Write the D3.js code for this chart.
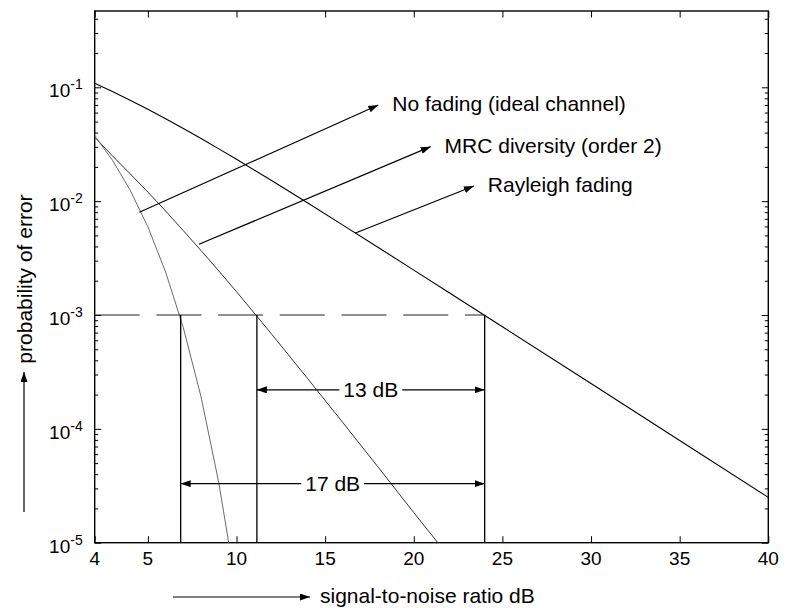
<!DOCTYPE html>
<html><head><meta charset="utf-8">
<script src="https://cdn.jsdelivr.net/npm/d3@7"></script>
<style>
body{margin:0;background:#fff}
svg{display:block}
text{font-family:"Liberation Sans",Arial,Helvetica,sans-serif;fill:#000}
</style>
</head><body><svg id="c" width="790" height="608"></svg>
<script>
// ---- data ----
const snrAwgn = [2,3,4,5,6,7,8,9,10];
const berAwgn = [0.0375,0.0229,0.0125,0.00595,0.00239,0.000773,0.000191,0.0000336,0.00000387];
const snrMrc = [2,3,4,5,6,7,8,9,10,11,12,14,16,18,20,22];
const berMrc = [0.0365,0.0250,0.0174,0.0120,0.0082,0.0055,0.00368,0.00244,0.0016,0.00104,0.000674,0.000278,0.0001135,0.0000459,0.0000184,0.0000075];
const snrRay = [2,3,4,5,6,7,8,9,10,12,14,16,18,20,22,25,30,35,40];
const berRay = [0.1085,0.0919,0.0771,0.0642,0.0530,0.0435,0.0355,0.0288,0.0233,0.0151,0.00967,0.00616,0.00392,0.00248,0.00157,0.000788,0.00025,0.000079,0.000025];
const xTickValues = [2,5,10,15,20,25,30,35,40];
const xTickLabels = ["4","5","10","15","20","25","30","35","40"];
const yTickExponents = [-5,-4,-3,-2,-1];
const refBer = 1e-3;
const crossSnr = [6.85, 11.15, 24.0];
const gapLabels = ["13 dB","17 dB"];
const gapBer = [2.2e-4, 3.3e-5];
const gapFrom = [11.15, 6.85];
const gapTo = [24.0, 24.0];
const curveLabels = ["No fading (ideal channel)","MRC diversity (order 2)","Rayleigh fading"];
const leaderFromSnr = [4.52, 7.88, 16.68];
const leaderFromBer = [0.00798, 0.00418, 0.00522];
const leaderToSnr = [18.0, 20.95, 23.39];
const leaderToBer = [0.0699, 0.0301, 0.01358];
const xTitle = "signal-to-noise ratio dB";
const yTitle = "probability of error";

// ---- layout ----
const L = 94.7, R = 768.3, T = 11, B = 542.7;
const svg = d3.select("#c");
const x = d3.scaleLinear().domain([2,40]).range([L,R]);
const y = d3.scaleLog().domain([1e-5,0.468]).range([B,T]);

const defs = svg.append("defs");
defs.append("clipPath").attr("id","clip").append("rect")
  .attr("x",L).attr("y",T).attr("width",R-L).attr("height",B-T);
defs.append("marker").attr("id","ah").attr("viewBox","0 0 10 7")
  .attr("refX",10).attr("refY",3.5).attr("markerWidth",10).attr("markerHeight",7)
  .attr("markerUnits","userSpaceOnUse").attr("orient","auto-start-reverse")
  .append("path").attr("d","M0,0L10,3.5L0,7Z").attr("fill","#000");

// minor ticks
const minor = [];
for (let e=-5; e<=-1; e++) for (let k=2; k<=9; k++) { const v=k*Math.pow(10,e); if (v<=0.468) minor.push(v); }

const axisG = svg.append("g");
axisG.append("g").attr("transform",`translate(${L},0)`)
  .call(d3.axisLeft(y).tickValues(minor).tickSize(-3.5).tickFormat(""));
axisG.append("g").attr("transform",`translate(${R},0)`)
  .call(d3.axisRight(y).tickValues(minor).tickSize(-3.5).tickFormat(""));
axisG.append("g").attr("transform",`translate(${L},0)`)
  .call(d3.axisLeft(y).tickValues(yTickExponents.map(e=>Math.pow(10,e))).tickSize(-6.5).tickFormat(""));
axisG.append("g").attr("transform",`translate(${R},0)`)
  .call(d3.axisRight(y).tickValues(yTickExponents.map(e=>Math.pow(10,e))).tickSize(-6.5).tickFormat(""));
axisG.append("g").attr("transform",`translate(0,${B})`)
  .call(d3.axisBottom(x).tickValues(xTickValues).tickSize(-6.5).tickFormat(""));
axisG.append("g").attr("transform",`translate(0,${T})`)
  .call(d3.axisTop(x).tickValues(xTickValues).tickSize(-6.5).tickFormat(""));
axisG.selectAll(".domain").remove();
axisG.selectAll(".tick line").attr("stroke","#000").attr("stroke-width",1);

// frame
svg.append("rect").attr("x",L).attr("y",T).attr("width",R-L).attr("height",B-T)
  .attr("fill","none").attr("stroke","#000").attr("stroke-width",1.4);

// x tick labels
svg.append("g").selectAll("text").data(xTickValues).join("text")
  .attr("x",d=>x(d)).attr("y",B+22).attr("text-anchor","middle")
  .style("font-size","19px").text((d,i)=>xTickLabels[i]);

// y tick labels 10^e
const yl = svg.append("g").selectAll("text").data(yTickExponents).join("text")
  .attr("x",L-12).attr("y",d=>y(Math.pow(10,d))+10).attr("text-anchor","end")
  .style("font-size","19px");
yl.append("tspan").text("10");
yl.append("tspan").attr("dy",-8).style("font-size","14px").text(d=>String(d));

// curves
const line = d3.line().x(d=>x(d[0])).y(d=>y(d[1]));
const curves = svg.append("g").attr("clip-path","url(#clip)");
curves.append("path").datum(snrRay.map((s,i)=>[s,berRay[i]])).attr("d",line)
  .attr("fill","none").attr("stroke","#000").attr("stroke-width",1.1);
curves.append("path").datum(snrMrc.map((s,i)=>[s,berMrc[i]])).attr("d",line)
  .attr("fill","none").attr("stroke","#333").attr("stroke-width",1);
curves.append("path").datum(snrAwgn.map((s,i)=>[s,berAwgn[i]])).attr("d",line)
  .attr("fill","none").attr("stroke","#6a6a6a").attr("stroke-width",1);

// reference dashed line at 1e-3
svg.append("line").attr("x1",x(2)).attr("x2",x(crossSnr[2])).attr("y1",y(refBer)).attr("y2",y(refBer))
  .attr("stroke","#222").attr("stroke-width",1.1).attr("stroke-dasharray","45,16.7");

// verticals
svg.append("g").selectAll("line").data(crossSnr).join("line")
  .attr("x1",d=>x(d)).attr("x2",d=>x(d)).attr("y1",y(refBer)).attr("y2",B)
  .attr("stroke","#000").attr("stroke-width",1.3);

// dimension arrows
gapLabels.forEach((lab,i)=>{
  const yy = y(gapBer[i]);
  svg.append("line").attr("x1",x(gapFrom[i])).attr("x2",x(gapTo[i])).attr("y1",yy).attr("y2",yy)
    .attr("stroke","#000").attr("stroke-width",1.2)
    .attr("marker-start","url(#ah)").attr("marker-end","url(#ah)");
  const cx = (x(gapFrom[i])+x(gapTo[i]))/2;
  const t = svg.append("text").attr("x",cx).attr("y",yy+7.5).attr("text-anchor","middle")
    .style("font-size","21px").text(lab);
  const bb = t.node().getBBox();
  svg.insert("rect", () => t.node()).attr("x",bb.x-4).attr("y",yy-3).attr("width",bb.width+8).attr("height",6).attr("fill","#fff");
});

// leader arrows + labels
curveLabels.forEach((lab,i)=>{
  svg.append("line").attr("x1",x(leaderFromSnr[i])).attr("y1",y(leaderFromBer[i]))
    .attr("x2",x(leaderToSnr[i])).attr("y2",y(leaderToBer[i]))
    .attr("stroke","#000").attr("stroke-width",1.2).attr("marker-end","url(#ah)");
  svg.append("text").attr("x",x(leaderToSnr[i])+14).attr("y",y(leaderToBer[i])+6)
    .style("font-size","21px").text(lab);
});

// axis titles with arrows
svg.append("line").attr("x1",173).attr("x2",310).attr("y1",597).attr("y2",597)
  .attr("stroke","#000").attr("stroke-width",1.2).attr("marker-end","url(#ah)");
svg.append("text").attr("x",320).attr("y",603).style("font-size","21px").text(xTitle);
svg.append("line").attr("x1",24).attr("x2",24).attr("y1",512).attr("y2",372)
  .attr("stroke","#000").attr("stroke-width",1.2).attr("marker-end","url(#ah)");
svg.append("text").attr("transform","translate(32,279) rotate(-90)").attr("text-anchor","middle")
  .style("font-size","21px").text(yTitle);
</script>
</body></html>
